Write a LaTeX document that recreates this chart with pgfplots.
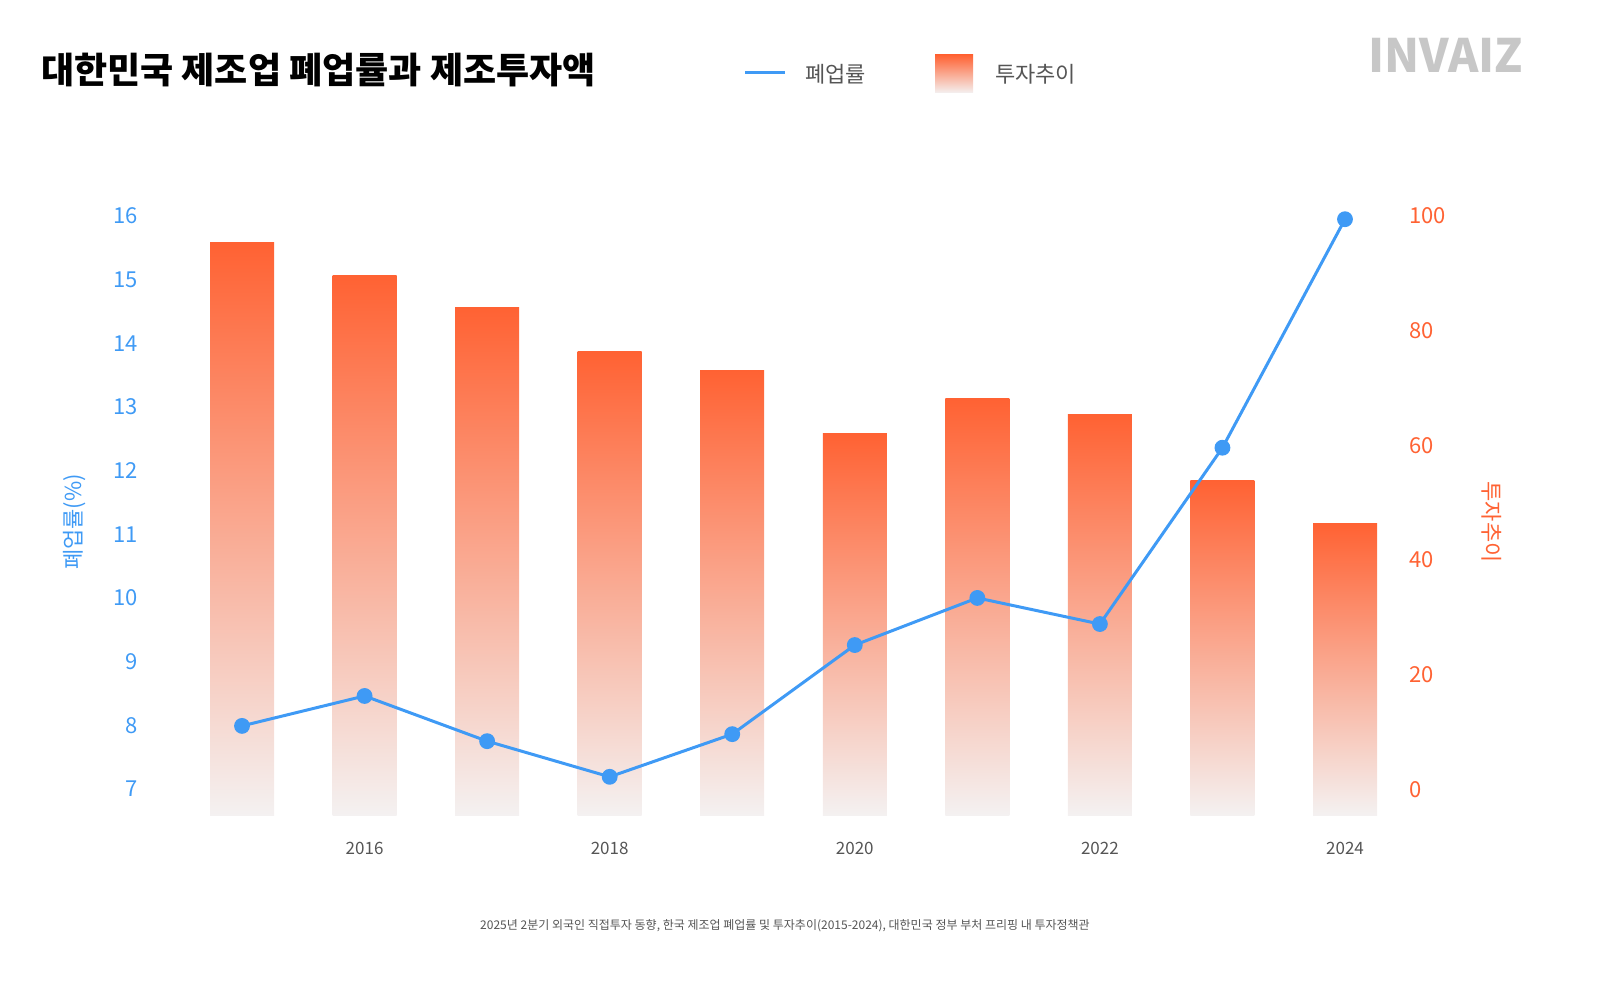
\documentclass[border=0pt]{standalone}
\usepackage{pgfplots}
\pgfplotsset{compat=1.18}
\usepackage{fontspec}
\setmainfont{Noto Sans CJK KR}
\definecolor{blu}{HTML}{3F9AF5}
\definecolor{org}{HTML}{FF6233}
\definecolor{lgt}{HTML}{F4F1F1}
\definecolor{gry}{HTML}{555555}
\begin{document}
\begin{tikzpicture}
\useasboundingbox (0,0) rectangle (800pt,493.5pt);
\node[anchor=west,font=\fontsize{18}{20}\selectfont\bfseries] at (17pt,458.5pt) {대한민국 제조업 폐업률과 제조투자액};
\draw[blu,line width=1.5pt] (372.5pt,457pt) -- (392.5pt,457pt);
\node[anchor=west,text=gry,font=\fontsize{11}{13}\selectfont] at (399pt,456.5pt) {폐업률};
\shade[top color=org,bottom color=lgt] (467.5pt,447pt) rectangle (486.5pt,466pt);
\node[anchor=west,text=gry,font=\fontsize{11}{13}\selectfont] at (494pt,456.5pt) {투자추이};
\node[anchor=east,text=black!22,font=\fontsize{23}{25}\selectfont\bfseries] at (765pt,466pt) {INVAIZ};
\node[text=gry,font=\fontsize{6}{7}\selectfont] at (392.5pt,30.5pt) {2025년 2분기 외국인 직접투자 동향, 한국 제조업 폐업률 및 투자추이(2015-2024), 대한민국 정부 부처 프리핑 내 투자정책관};
\node[rotate=90,text=blu,font=\fontsize{11}{13}\selectfont] at (37.5pt,232.5pt) {폐업률(\%)};
\node[rotate=-90,text=org,font=\fontsize{11}{13}\selectfont] at (746pt,232.5pt) {투자추이};
\begin{axis}[at={(96.5pt,86pt)},anchor=south west,scale only axis,
 width=600.5pt,height=305.85pt,
 xmin=2014.6,xmax=2024.4,ymin=0,ymax=106.72,
 axis y line*=right,axis x line*=bottom,
 axis line style={draw=none},tick style={draw=none},
 xtick={2016,2018,2020,2022,2024},
 xticklabel style={text=gry,font=\fontsize{8.5}{10}\selectfont,yshift=-10pt},
 x tick label style={/pgf/number format/1000 sep=},
 /pgf/number format/assume math mode=true,
 ytick={4.5,24.5,44.5,64.5,84.5,104.5},yticklabels={0,20,40,60,80,100},
 yticklabel style={text=org,font=\fontsize{11}{13}\selectfont,anchor=west,xshift=4pt},
 no markers,
 every axis plot/.append style={ybar,bar width=32pt,draw=none,mark=none,top color=org,bottom color=lgt}]
\addplot coordinates {(2015,99.8)};
\addplot coordinates {(2016,94.2)};
\addplot coordinates {(2017,88.6)};
\addplot coordinates {(2018,80.8)};
\addplot coordinates {(2019,77.6)};
\addplot coordinates {(2020,66.5)};
\addplot coordinates {(2021,72.6)};
\addplot coordinates {(2022,69.8)};
\addplot coordinates {(2023,58.3)};
\addplot coordinates {(2024,50.9)};
\end{axis}
\begin{axis}[at={(96.5pt,86pt)},anchor=south west,scale only axis,
 width=600.5pt,height=305.85pt,
 xmin=2014.6,xmax=2024.4,ymin=6.59,ymax=16.2,
 axis y line*=left,axis x line=none,
 axis line style={draw=none},tick style={draw=none},
 ytick={7,...,16},
 yticklabel style={text=blu,font=\fontsize{11}{13}\selectfont,anchor=east,xshift=-24pt},
 /pgf/number format/assume math mode=true]
\addplot[blu,line width=1.5pt,mark=*,mark size=3.2pt] coordinates {
(2015,7.99)(2016,8.46)(2017,7.75)(2018,7.19)(2019,7.86)(2020,9.26)(2021,10.0)(2022,9.59)(2023,12.36)(2024,15.95)};
\end{axis}
\end{tikzpicture}
\end{document}
